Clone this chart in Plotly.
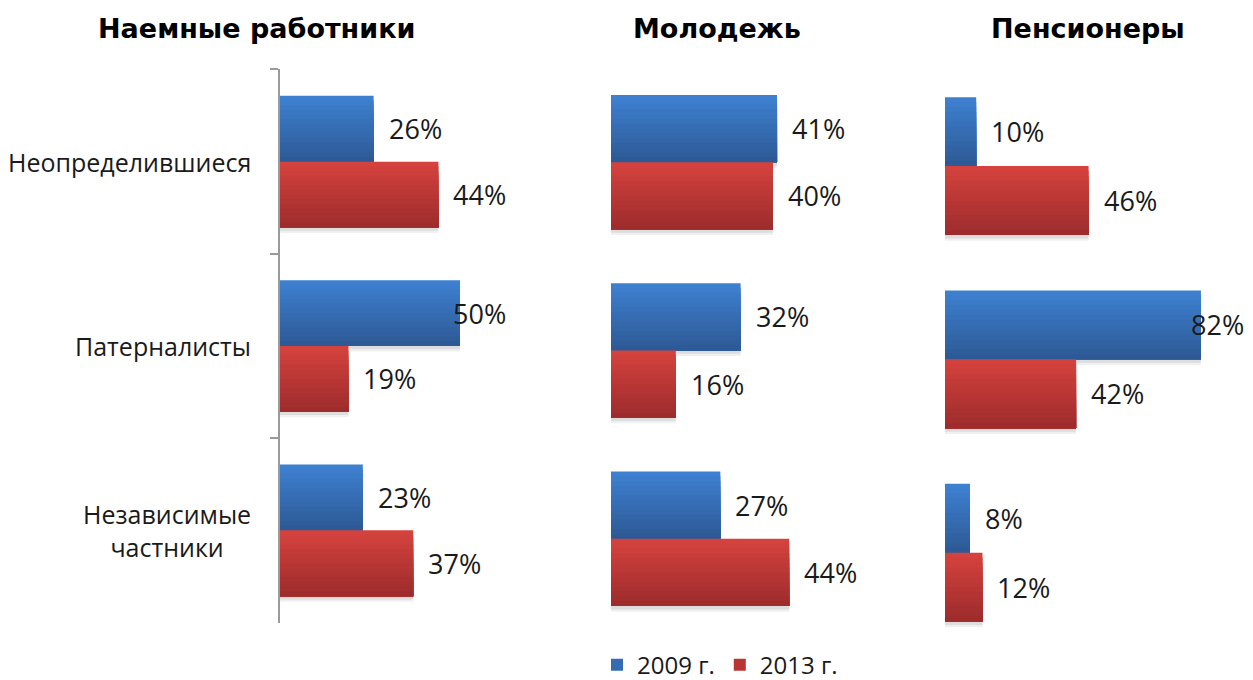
import plotly.graph_objects as go

# ---------------- data ----------------
categories = ["Неопределившиеся", "Патерналисты", "Независимые частники"]
category_labels = ["Неопределившиеся", "Патерналисты", "Независимые<br>частники"]
panel_titles = ["Наемные работники", "Молодежь", "Пенсионеры"]
series_names = ["2009 г.", "2013 г."]

workers_2009 = [26, 50, 23]
workers_2013 = [44, 19, 37]
youth_2009 = [41, 32, 27]
youth_2013 = [40, 16, 44]
pensioners_2009 = [10, 82, 8]
pensioners_2013 = [46, 42, 12]

panels = [
    (workers_2009, workers_2013),
    (youth_2009, youth_2013),
    (pensioners_2009, pensioners_2013),
]

# ---------------- styling / layout ----------------
OFF = 8                      # page body margin (figure drawn at 8,8 on the page)
W, H = 1253, 680
# x-domain in screen pixels and x-range per panel
x_px = [(280, 496), (611, 813.5), (945, 1244)]
x_rng = [(0, 60), (0, 50), (0, 95.8)]
label_limit_px = [508, 900, 1246]      # right edge available for value labels
# y-domain in screen pixels (top, bottom)
y_px = [(70, 628), (68.5, 638.5), (70, 655)]
half_w = [0.357, 0.357, 0.356]

top_colors = [(62, 128, 208), (212, 66, 62)]
bot_colors = [(45, 90, 150), (158, 44, 44)]
shadow_layers = [(0.03, "rgba(0,0,0,0.06)"), (0.018, "rgba(0,0,0,0.08)")]
N = 14

title_font = dict(family="DejaVu Sans", size=27, color="#000000")
label_font = dict(family="Open Sans", size=25, color="#1a1a1a")
value_font = dict(family="Open Sans", size=27, color="#1a1a1a")
VALUE_GAP = 13
VALUE_W = 50


def px_x(px):
    return (px - OFF) / W


def px_y(py):
    return (H - (py - OFF)) / H


def lerp(c1, c2, t):
    return "rgb(%d,%d,%d)" % tuple(round(a + (b - a) * t) for a, b in zip(c1, c2))


fig = go.Figure()

for p, (s09, s13) in enumerate(panels):
    xa = "x" if p == 0 else "x%d" % (p + 1)
    ya = "y" if p == 0 else "y%d" % (p + 1)
    w = half_w[p]
    # soft shadows under the bars
    for s, vals in enumerate((s09, s13)):
        start = -w if s == 0 else 0.0
        for dy, scol in shadow_layers:
            fig.add_trace(go.Bar(
                x=vals, y=categories, orientation="h", xaxis=xa, yaxis=ya,
                offset=start + dy, width=w, marker=dict(color=scol, line=dict(width=0)),
                showlegend=False, hoverinfo="skip",
            ))
    for s, vals in enumerate((s09, s13)):
        start = -w if s == 0 else 0.0
        for k in range(N):
            off = start + k * w / N
            wid = w - k * w / N
            col = lerp(top_colors[s], bot_colors[s], k / (N - 1))
            show = (p == 0 and k == N // 2)
            fig.add_trace(go.Bar(
                x=vals, y=categories, orientation="h",
                xaxis=xa, yaxis=ya,
                offset=off, width=wid,
                marker=dict(color=col, line=dict(width=0)),
                name=series_names[s],
                legendgroup=series_names[s],
                legendrank=s + 1,
                showlegend=show,
                hoverinfo="skip",
            ))
        # value labels
        x0, x1 = x_px[p]
        r0, r1 = x_rng[p]
        scale = (x1 - x0) / (r1 - r0)
        for i, v in enumerate(vals):
            end_px = x0 + (v - r0) * scale
            ypos = i - w / 2 if s == 0 else i + w / 2
            if end_px + VALUE_GAP + VALUE_W > label_limit_px[p]:
                fig.add_annotation(text="%d%%" % v, x=px_x(label_limit_px[p]), xref="paper",
                                   y=ypos, yref=ya, xanchor="right", yanchor="middle",
                                   showarrow=False, font=value_font)
            else:
                fig.add_annotation(text="%d%%" % v, x=v, xref=xa, y=ypos, yref=ya,
                                   xanchor="left", yanchor="middle", xshift=VALUE_GAP,
                                   showarrow=False, font=value_font)

layout = dict(
    width=W, height=H,
    margin=dict(l=0, r=0, t=0, b=0),
    paper_bgcolor="white", plot_bgcolor="white",
    barmode="overlay",
    showlegend=True,
    legend=dict(orientation="h", x=px_x(720), xanchor="center", y=px_y(671), yanchor="middle",
                font=dict(family="Open Sans", size=24, color="#1a1a1a"),
                itemwidth=30, traceorder="normal", bgcolor="rgba(0,0,0,0)"),
)

for p in range(3):
    xk = "xaxis" if p == 0 else "xaxis%d" % (p + 1)
    yk = "yaxis" if p == 0 else "yaxis%d" % (p + 1)
    ya = "y" if p == 0 else "y%d" % (p + 1)
    x0, x1 = x_px[p]
    yt, yb = y_px[p]
    layout[xk] = dict(domain=[px_x(x0), px_x(x1)], range=list(x_rng[p]), visible=False,
                      anchor=ya, fixedrange=True)
    ydict = dict(domain=[px_y(yb), px_y(yt)], type="category",
                 categoryorder="array", categoryarray=categories,
                 autorange="reversed", anchor="x" if p == 0 else "x%d" % (p + 1),
                 showgrid=False, zeroline=False, showticklabels=False)
    if p == 0:
        ydict.update(showline=True, linecolor="#9a9a9a", linewidth=1.5,
                     ticks="outside", tickson="boundaries", ticklen=8,
                     tickcolor="#9a9a9a", tickwidth=1.5)
    else:
        ydict.update(showline=False, ticks="")
    layout[yk] = ydict

fig.update_layout(**layout)

# panel titles
title_x = [256, 717, 1088]
for t, tx in zip(panel_titles, title_x):
    fig.add_annotation(text="<b>%s</b>" % t, x=px_x(tx), y=px_y(29),
                       xref="paper", yref="paper", xanchor="center", yanchor="middle",
                       showarrow=False, font=title_font)

# category labels
for c, lab in zip(categories, category_labels):
    fig.add_annotation(text=lab, x=px_x(253), y=c, xref="paper", yref="y",
                       xanchor="right", yanchor="middle", align="center",
                       showarrow=False, font=label_font)

fig.write_html("out.html")
